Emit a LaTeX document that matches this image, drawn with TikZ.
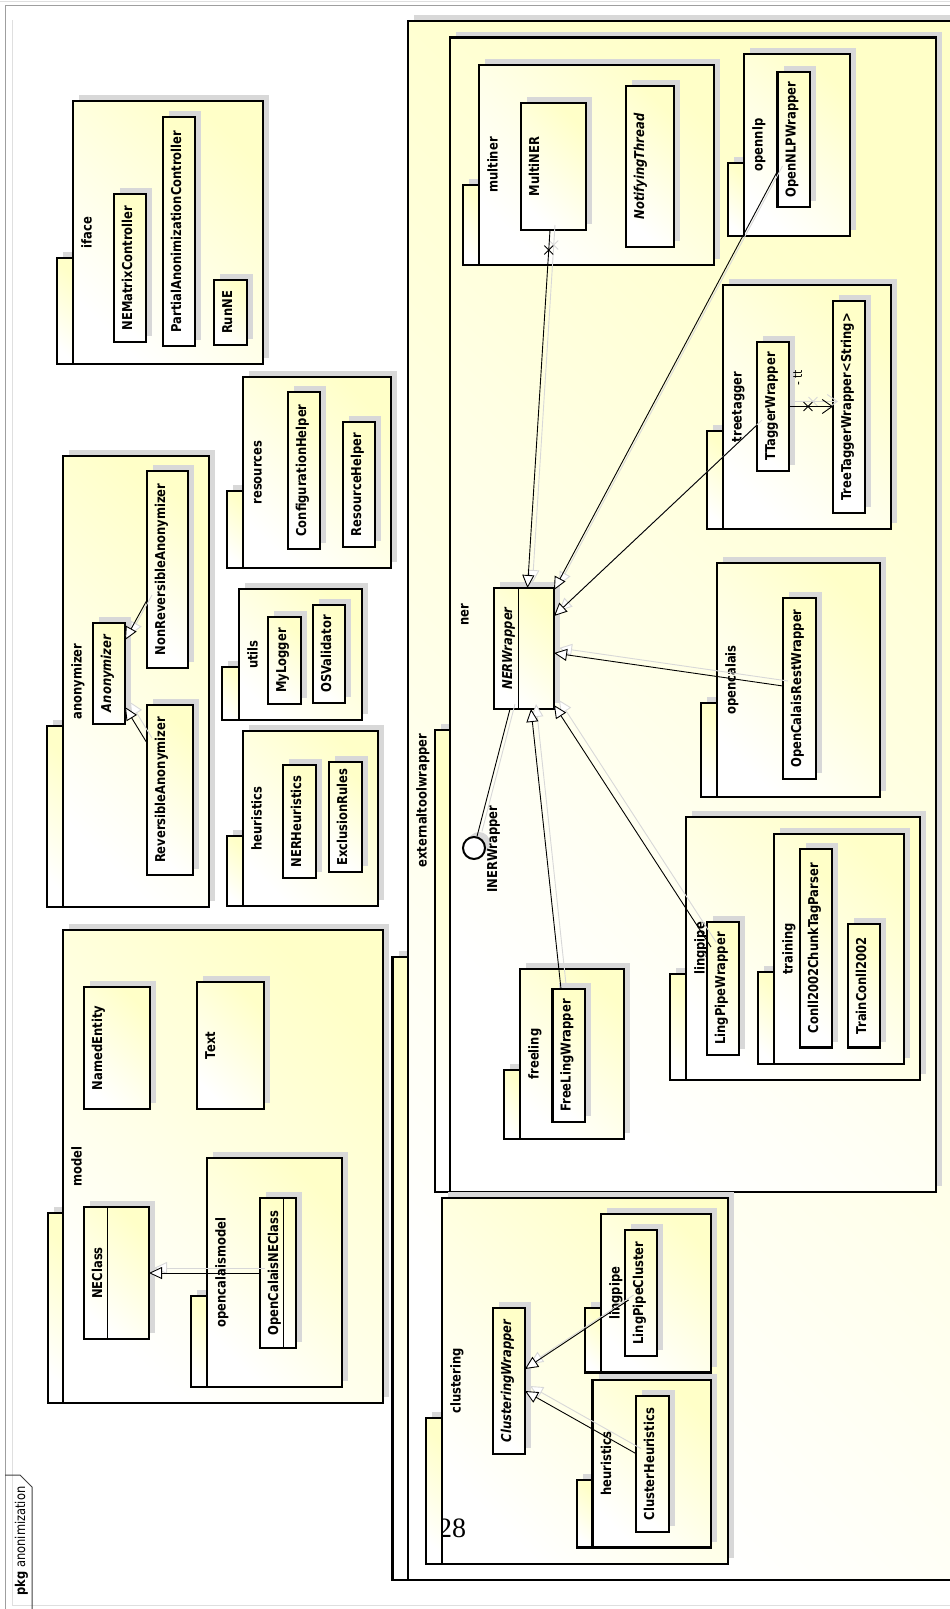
\documentclass[tikz,border=0pt]{standalone}
\usepackage{fontspec}
\setmainfont{DejaVu Sans}[FakeStretch=0.85]
\newfontfamily\numfont{Liberation Serif}
\usetikzlibrary{arrows.meta,calc,shapes.misc}
\definecolor{pkY}{RGB}{255,255,200}
\definecolor{shd}{RGB}{216,216,216}
\tikzset{
  yfill/.style={shading=axis, top color=pkY, bottom color=white, shading angle=-45},
  pkgline/.style={draw=black, line width=2.4pt},
  pkgbody/.style={pkgline, yfill, rectangle, inner sep=0pt, outer sep=0pt},
  clsbox/.style={pkgline, yfill, rectangle, inner sep=0pt, outer sep=0pt},
  lbl/.style={rotate=90, anchor=base, inner sep=0pt, font=\fontsize{13.6}{15}\selectfont\bfseries},
  ilbl/.style={lbl, font=\fontsize{13.6}{15}\selectfont\bfseries\itshape},
  divline/.style={draw=black, line width=1pt},
  conn/.style={draw=black, line width=0.9pt},
  cshadow/.style={draw=shd, line width=0.9pt, transform canvas={xshift=5pt,yshift=5pt}},
  gentip/.style={-{Triangle[length=13pt,width=12pt,fill=white,line width=0.9pt]}},
  navtip/.style={-{Straight Barb[length=10pt,width=14pt,line width=0.9pt]}},
  xmk/.style={cross out, draw, line width=0.9pt, minimum size=8pt, inner sep=0pt},
}
% package: name, tab x, body x1, y1, x2, y2, tab top y, label
\newcommand\Pkg[8]{%
  \fill[shd] (#2+6,#7-6) rectangle (#3+6,#6-6);
  \fill[shd] (#3+6,#4-6) rectangle (#5+6,#6-6);
  \path[pkgline, yfill] (#2,#7) rectangle (#3,#6);
  \node[pkgbody, minimum width={#5-#3}, minimum height={#6-#4}] (#1) at ({(#3+#5)/2},{(#4+#6)/2}) {};
  \node[lbl] (#1-l) at (#3+18.5,{(#4+#6)/2}) {#8};
}
% class: [label style] name, x1, y1, x2, y2, label
\newcommand\Cls[7][lbl]{%
  \fill[shd] (#3+6,#4-6) rectangle (#5+6,#6-6);
  \node[clsbox, minimum width={#5-#3}, minimum height={#6-#4}] (#2) at ({(#3+#5)/2},{(#4+#6)/2}) {};
  \node[#1] (#2-l) at (#3+18,{(#4+#6)/2}) {#7};
}
\newcommand\Gen[2]{%
  \draw[cshadow, gentip] #1 -- #2;
  \draw[conn, gentip] #1 -- #2;
}
\begin{document}
\begin{tikzpicture}[x=1pt,y=-1pt]
\useasboundingbox (0,0) rectangle (950,1609);
% diagram frame
\draw[gray!25, line width=1pt] (0,1) -- (950,1);
\draw[gray!25, line width=1pt] (12,20) -- (12,1605) -- (960,1605);
\draw[gray!75, line width=1pt] (5,1609) -- (5,5) -- (960,5);
\draw[black!75, line width=1pt] (5,1475) -- (20,1475) -- (32,1487) -- (32,1609);
\node[rotate=90, anchor=base, inner sep=0pt, font=\fontsize{13.5}{15}\selectfont] (frame-l) at (25,1541) {\textbf{pkg} anonimization};

% iface
\Pkg{p-iface}{57}{73}{101}{263}{364}{258}{iface}
\Cls{NEMatrixController}{114}{194}{146}{342}{NEMatrixController}
\Cls{PartialAnonimizationController}{163}{117}{195}{346}{PartialAnonimizationController}
\Cls{RunNE}{214}{280}{247}{345}{RunNE}

% anonymizer
\Pkg{p-anonymizer}{47}{63}{456}{209}{907}{726}{anonymizer}
\Cls[ilbl]{Anonymizer}{93}{623}{125}{724}{Anonymizer}
\Cls{NonReversibleAnonymizer}{147}{471}{188}{668}{NonReversibleAnonymizer}
\Cls{ReversibleAnonymizer}{147}{705}{193}{875}{ReversibleAnonymizer}

% resources, utils, heuristics
\Pkg{p-resources}{227}{243}{377}{391}{568}{491}{resources}
\Cls{ConfigurationHelper}{288}{392}{320}{549}{ConfigurationHelper}
\Cls{ResourceHelper}{343}{422}{375}{547}{ResourceHelper}
\Pkg{p-utils}{222}{239}{589}{362}{720}{667}{utils}
\Cls{MyLogger}{268}{617}{301}{704}{MyLogger}
\Cls{OSValidator}{313}{605}{345}{703}{OSValidator}
\Pkg{p-heuristics}{227}{243}{731}{378}{906}{836}{heuristics}
\Cls{NERHeuristics}{283}{765}{316}{878}{NERHeuristics}
\Cls{ExclusionRules}{329}{762}{362}{872}{ExclusionRules}

% model
\Pkg{p-model}{48}{63}{930}{383}{1403}{1213}{model}
\Cls{NamedEntity}{84}{987}{150}{1109}{NamedEntity}
\Cls{Text}{197}{982}{264}{1109}{Text}
\Cls{NEClass}{84}{1207}{149}{1339}{NEClass}
\draw[divline] ([xshift=23pt]NEClass.north west) -- ([xshift=23pt]NEClass.south west);
\Pkg{p-opencalaismodel}{191}{207}{1158}{342}{1387}{1296}{opencalaismodel}
\Cls{OpenCalaisNEClass}{260}{1198}{296}{1348}{OpenCalaisNEClass}
\draw[divline] ([xshift=23pt]OpenCalaisNEClass.north west) -- ([xshift=23pt]OpenCalaisNEClass.south west);

% externaltoolwrapper
\Pkg{p-etw}{392.5}{408}{21}{975}{1580}{957}{externaltoolwrapper}
\Pkg{p-ner}{435}{450}{37.5}{936}{1192}{730}{ner}
\Pkg{p-multiner}{463}{479}{65}{714}{265}{185}{multiner}
\Cls{MultiNER}{521}{103}{586}{230}{MultiNER}
\Cls[ilbl]{NotifyingThread}{626}{86}{674}{247}{NotifyingThread}
\Pkg{p-opennlp}{728}{744}{54}{850}{236}{163}{opennlp}
\Cls{OpenNLPWrapper}{777.5}{72}{810}{207}{OpenNLPWrapper}
\Pkg{p-treetagger}{707}{723}{285}{891}{529}{431}{treetagger}
\Cls{TTaggerWrapper}{757}{342}{789}{471}{TTaggerWrapper}
\Cls{TreeTagger}{833}{301}{865}{513}{TreeTaggerWrapper<String>}
\Cls[ilbl]{NERWrapper}{494}{588}{554}{709}{NERWrapper}
\draw[divline] ([xshift=24pt]NERWrapper.north west) -- ([xshift=24pt]NERWrapper.south west);
\Pkg{p-opencalais}{701}{717}{563}{880}{797}{703}{opencalais}
\Cls{OpenCalaisRestWrapper}{783}{598}{816}{779}{OpenCalaisRestWrapper}
\Pkg{p-lingpipe}{670}{686}{817}{920}{1080}{974}{lingpipe}
\Cls{LingPipeWrapper}{707}{922}{739}{1055}{LingPipeWrapper}
\Pkg{p-training}{758}{774}{834}{904}{1064}{972}{training}
\Cls{Conll}{800}{849}{832}{1047.5}{Conll2002ChunkTagParser}
\Cls{TrainConll}{848}{924}{880}{1047.5}{TrainConll2002}
\Pkg{p-freeling}{504}{520}{969}{624}{1139}{1070}{freeling}
\Cls{FreeLingWrapper}{552.5}{989}{585}{1122}{FreeLingWrapper}
% interface lollipop
\fill[shd] (479,843) circle (11);
\node[circle, draw, line width=2pt, fill=white, minimum size=22pt, inner sep=0pt] (INER) at (474,848) {};
\node[lbl] (INER-l) at (497,849) {INERWrapper};

% clustering
\Pkg{p-clustering}{426}{442}{1198}{728}{1564}{1418}{clustering}
\Cls[ilbl]{ClusteringWrapper}{493}{1308}{525}{1454}{ClusteringWrapper}
\Pkg{p-cl-lingpipe}{585}{601}{1214}{711}{1372.5}{1308}{lingpipe}
\Cls{LingPipeCluster}{625}{1230}{657}{1356}{LingPipeCluster}
\Pkg{p-cl-heuristics}{577}{592.5}{1380}{711}{1547.5}{1480}{heuristics}
\Cls{ClusterHeuristics}{636}{1396}{669}{1532}{ClusterHeuristics}

% connectors
\draw[cshadow, gentip] ([xshift=-3.5pt]MultiNER.south) -- node[pos=0.056, xmk, draw=shd] (x1s) {} ([xshift=3.5pt]NERWrapper.north);
\draw[conn, gentip] ([xshift=-3.5pt]MultiNER.south) -- node[pos=0.056, xmk] (x1) {} ([xshift=3.5pt]NERWrapper.north);
\Gen{([yshift=-31.5pt]OpenNLPWrapper.west)}{([yshift=58.5pt]NERWrapper.east)}
\Gen{([yshift=-18.5pt]TTaggerWrapper.west)}{([yshift=32.5pt]NERWrapper.east)}
\Gen{([yshift=2.5pt]OpenCalaisRestWrapper.west)}{([yshift=-4.5pt]NERWrapper.east)}
\Gen{([xshift=4pt,yshift=41.5pt]LingPipeWrapper.west)}{([yshift=-56.5pt]NERWrapper.east)}
\Gen{([xshift=-7.75pt]FreeLingWrapper.north)}{([xshift=7pt]NERWrapper.south)}
\draw[cshadow] ([xshift=-14pt]NERWrapper.south) -- (INER);
\draw[conn] ([xshift=-14pt]NERWrapper.south) -- (INER);
\Gen{([yshift=-30.5pt]NonReversibleAnonymizer.west)}{([yshift=33.5pt]Anonymizer.east)}
\Gen{([yshift=47pt]ReversibleAnonymizer.west)}{([yshift=-33.5pt]Anonymizer.east)}
\Gen{(OpenCalaisNEClass.west)}{(NEClass.east)}
\Gen{([xshift=3.6pt,yshift=-7pt]LingPipeCluster.west)}{([yshift=12pt]ClusteringWrapper.east)}
\Gen{([yshift=10.4pt]ClusterHeuristics.west)}{([yshift=-10pt]ClusteringWrapper.east)}
\draw[cshadow, navtip] (TTaggerWrapper.east) -- node[pos=0.43, xmk, draw=shd] (x2s) {} (TTaggerWrapper.east -| TreeTagger.west);
\draw[conn, navtip] (TTaggerWrapper.east) -- node[pos=0.43, xmk] (x2) {} (TTaggerWrapper.east -| TreeTagger.west);
\node[rotate=90, anchor=base, inner sep=0pt, font=\fontsize{12.5}{14}\selectfont] (tt-l) at (802,378) {- tt};

% page number overlay
\begin{scope}
\clip (443,1505) rectangle (490,1550);
\node[anchor=base, inner sep=0pt, font=\numfont\fontsize{28}{30}\selectfont] (pagenum) at (452,1537) {28};
\end{scope}
\end{tikzpicture}
\end{document}
